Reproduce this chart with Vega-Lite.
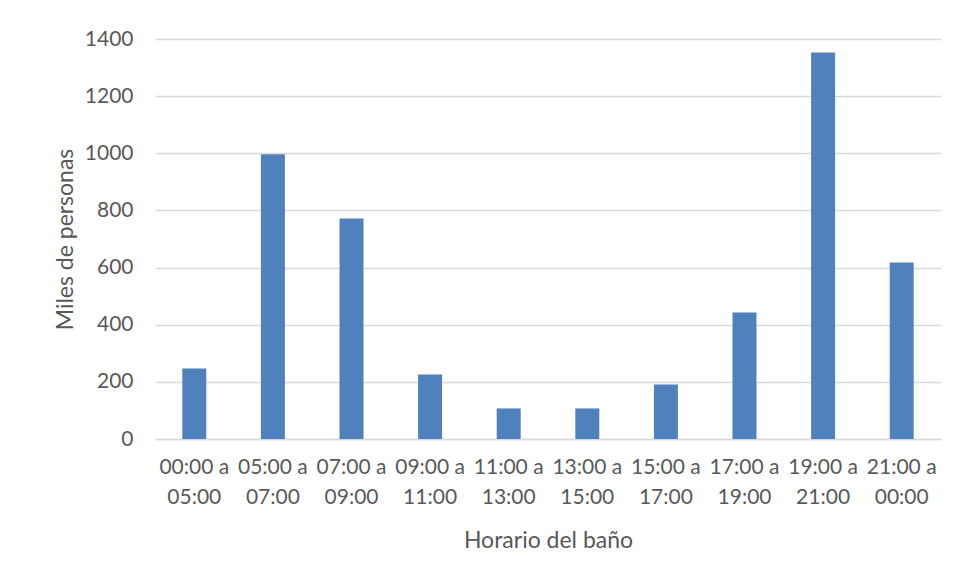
{
  "$schema": "https://vega.github.io/schema/vega-lite/v6.json",
  "width": 786,
  "height": 400,
  "autosize": {"type": "none"},
  "padding": {"left": 155, "top": 39, "right": 16, "bottom": 139},
  "background": "white",
  "config": {
    "view": {"stroke": null},
    "font": "Lato",
    "axis": {
      "labelFont": "Lato",
      "titleFont": "Lato",
      "labelColor": "#595959",
      "titleColor": "#595959",
      "labelFontSize": 21,
      "titleFontSize": 23,
      "titleFontWeight": "normal",
      "gridColor": "#d9d9d9",
      "gridWidth": 1.5
    }
  },
  "data": {
    "values": [
      {"horario": "00:00 a 05:00", "miles": 247},
      {"horario": "05:00 a 07:00", "miles": 997},
      {"horario": "07:00 a 09:00", "miles": 772},
      {"horario": "09:00 a 11:00", "miles": 226},
      {"horario": "11:00 a 13:00", "miles": 107},
      {"horario": "13:00 a 15:00", "miles": 107},
      {"horario": "15:00 a 17:00", "miles": 191},
      {"horario": "17:00 a 19:00", "miles": 443},
      {"horario": "19:00 a 21:00", "miles": 1353},
      {"horario": "21:00 a 00:00", "miles": 618}
    ]
  },
  "mark": {"type": "bar", "color": "#4f81bd", "size": 24},
  "encoding": {
    "x": {
      "field": "horario",
      "type": "nominal",
      "sort": null,
      "scale": {"paddingInner": 0, "paddingOuter": 0},
      "axis": {
        "title": "Horario del baño",
        "labelAngle": 0,
        "labelExpr": "[slice(datum.label, 0, 7), slice(datum.label, 8)]",
        "labelLineHeight": 30,
        "labelPadding": 17,
        "ticks": false,
        "domainColor": "#d9d9d9",
        "domainWidth": 1.5,
        "titlePadding": 22
      }
    },
    "y": {
      "field": "miles",
      "type": "quantitative",
      "scale": {"domain": [0, 1400]},
      "axis": {
        "title": "Miles de personas",
        "values": [0, 200, 400, 600, 800, 1000, 1200, 1400],
        "format": "d",
        "domain": false,
        "ticks": false,
        "labelPadding": 22,
        "titlePadding": 7
      }
    }
  }
}
